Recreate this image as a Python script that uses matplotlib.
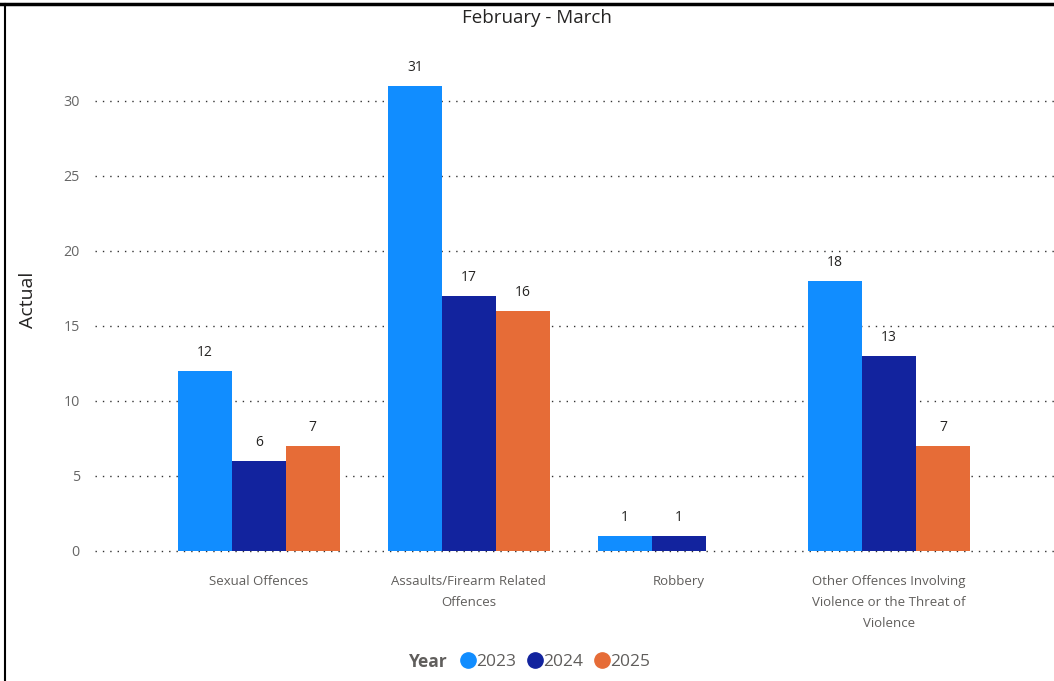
import matplotlib
matplotlib.use("Agg")
import matplotlib.pyplot as plt
import numpy as np
from matplotlib.lines import Line2D

plt.rcParams['font.family'] = ['Open Sans', 'DejaVu Sans']

categories = ['Sexual Offences', 'Assaults/Firearm Related\nOffences', 'Robbery',
              'Other Offences Involving\nViolence or the Threat of\nViolence']
years = ['2023', '2024', '2025']
vals_2023 = [12, 31, 1, 18]
vals_2024 = [6, 17, 1, 13]
vals_2025 = [7, 16, np.nan, 7]
colors = ['#118DFF', '#12239E', '#E66C37']

fig = plt.figure(figsize=(10.54, 6.81), dpi=100)
ax = fig.add_axes([0.0901, 0.1909, 0.9099, 0.7379])

x = np.arange(len(categories))
w = 0.257
series = [vals_2023, vals_2024, vals_2025]
for i, (vals, c) in enumerate(zip(series, colors)):
    pos = x + (i - 1) * w
    v = np.array(vals, dtype=float)
    bars = ax.bar(pos, np.nan_to_num(v), width=w, color=c, zorder=2)
    for b, val in zip(bars, v):
        if np.isnan(val):
            b.set_visible(False)
            continue
        ax.annotate(f'{int(val)}', (b.get_x() + b.get_width() / 2, val),
                    xytext=(0, 13.5), textcoords='offset points',
                    ha='center', va='center', fontsize=10, color='#252423')

ax.set_xlim(-0.78, 3.786)
ax.set_ylim(0, 33.5)
ax.set_yticks(range(0, 31, 5))
ax.set_xticks(x)
ax.set_xticklabels(categories, fontsize=9.5, color='#605E5C', linespacing=1.8, va='top')
ax.tick_params(axis='x', length=0, pad=17)
ax.tick_params(axis='y', length=0, pad=11, labelsize=10.3, labelcolor='#666666')
ax.grid(axis='y', linestyle=(0, (1, 4.3)), color='#333333', linewidth=1, zorder=0)
for gl in ax.get_ygridlines():
    gl.set_clip_on(False)
for s in ax.spines.values():
    s.set_visible(False)

ax.set_ylabel('Actual', fontsize=14, color='#252423')
ax.yaxis.set_label_coords(-0.060, 0.50)

fig.text(0.509, 0.973, 'February - March', ha='center', va='center', fontsize=13.5, color='#252423')

# legend
handles = [Line2D([], [], marker='o', linestyle='', markersize=11, color=c) for c in colors]
fig.legend(handles, years, loc='center', bbox_to_anchor=(0.5255, 0.028), ncol=3, frameon=False,
           fontsize=12.5, handletextpad=-0.15, columnspacing=0.5, handlelength=1.2,
           labelcolor='#605E5C')
fig.text(0.406, 0.028, 'Year', ha='center', va='center', fontsize=12.5, fontweight='bold', color='#605E5C')

# frame lines
fig.add_artist(Line2D([0, 1], [1 - 4 / 681] * 2, color='black', lw=2.5, transform=fig.transFigure))
fig.add_artist(Line2D([5 / 1054] * 2, [0, 1 - 4 / 681], color='black', lw=1.5, transform=fig.transFigure))

fig.savefig('out.png', dpi=100)
